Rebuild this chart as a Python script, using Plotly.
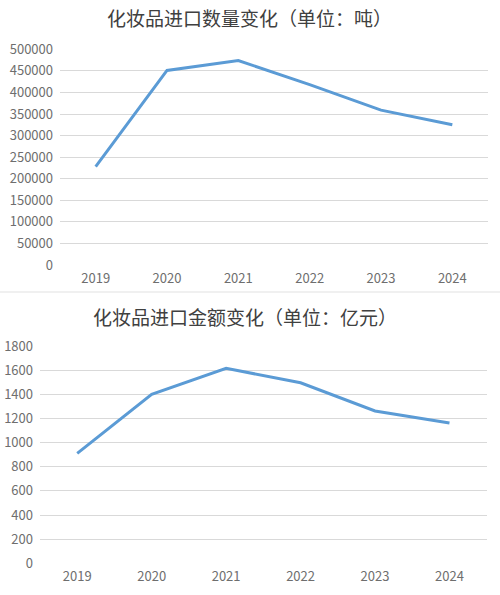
import plotly.graph_objects as go

years = ['2019', '2020', '2021', '2022', '2023', '2024']
quantity_tons = [228000, 451000, 474000, 418000, 359000, 325000]
amount_100m_yuan = [910, 1400, 1615, 1495, 1262, 1162]

title_top = '化妆品进口数量变化（单位：吨）'
title_bottom = '化妆品进口金额变化（单位：亿元）'

line_color = '#5b9bd5'
grid_color = '#d9d9d9'
tick_color = '#6e6e6e'
font_family = 'Noto Sans CJK SC'

fig = go.Figure()
fig.add_trace(go.Scatter(
    x=years, y=quantity_tons, mode='lines',
    line=dict(color=line_color, width=3),
    xaxis='x', yaxis='y', showlegend=False
))
fig.add_trace(go.Scatter(
    x=years, y=amount_100m_yuan, mode='lines',
    line=dict(color=line_color, width=3),
    xaxis='x2', yaxis='y2', showlegend=False
))

axis_common = dict(showline=False, zeroline=False, ticks='', automargin=False,
                   tickfont=dict(size=13, color=tick_color, family=font_family))

fig.update_layout(
    width=500, height=595,
    margin=dict(l=0, r=0, t=0, b=0),
    paper_bgcolor='white', plot_bgcolor='white',
    font=dict(family=font_family, color=tick_color),
    xaxis=dict(domain=[0.12, 0.976], anchor='y', type='category',
               range=[-0.5, 5.5], showgrid=False, ticklabelstandoff=4, **axis_common),
    yaxis=dict(domain=[0.5546, 0.9171], anchor='x', range=[0, 500000], dtick=50000,
               tickformat='d', showgrid=True, gridcolor=grid_color, gridwidth=1,
               ticklabelstandoff=6, **axis_common),
    xaxis2=dict(domain=[0.08, 0.9734], anchor='y2', type='category',
                range=[-0.5, 5.5], showgrid=False, ticklabelstandoff=4, **axis_common),
    yaxis2=dict(domain=[0.0533, 0.4185], anchor='x2', range=[0, 1800], dtick=200,
                tickformat='d', showgrid=True, gridcolor=grid_color, gridwidth=1,
                ticklabelstandoff=6, **axis_common),
    annotations=[
        dict(text=title_top, x=0.498, y=1 - 17 / 595, xref='paper', yref='paper',
             xanchor='center', yanchor='middle', showarrow=False,
             font=dict(size=19, color='#404040', family=font_family)),
        dict(text=title_bottom, x=0.49, y=1 - 316 / 595, xref='paper', yref='paper',
             xanchor='center', yanchor='middle', showarrow=False,
             font=dict(size=19, color='#404040', family=font_family)),
    ],
    shapes=[
        dict(type='line', xref='paper', yref='paper', x0=0, x1=1,
             y0=1 - 292 / 595, y1=1 - 292 / 595,
             line=dict(color='#f0f0f0', width=2)),
    ],
)

fig.write_html('out.html', config={'displayModeBar': False},
               post_script="document.body.style.margin='0';")
